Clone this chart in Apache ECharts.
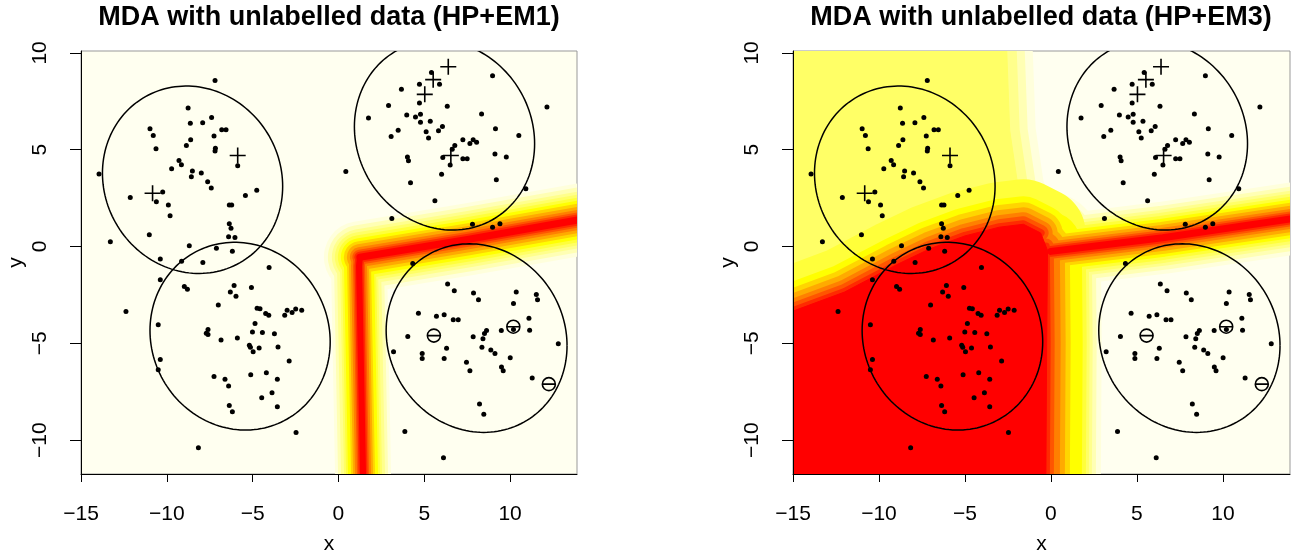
<!DOCTYPE html>
<html>
<head>
<meta charset="utf-8">
<script src="https://cdn.jsdelivr.net/npm/echarts@6/dist/echarts.min.js"></script>
<style>
  html, body { margin: 0; padding: 0; background: #fff; }
  #chart { width: 1291px; height: 560px; }
</style>
</head>
<body>
<div id="chart"></div>
<script>
// ---- values (data units) ----
var titles = ['MDA with unlabelled data (HP+EM1)', 'MDA with unlabelled data (HP+EM3)'];
var xTicks = [-15, -10, -5, 0, 5, 10];
var yTicks = [-10, -5, 0, 5, 10];

// unlabelled observations (same in both panels)
var dots = [
  // upper-left cluster
  [-7.19,8.58],[-8.76,7.16],[-8.63,6.37],[-7.91,6.39],[-7.39,6.67],[-6.80,6.03],[-6.55,6.03],
  [-10.98,6.08],[-10.79,5.74],[-7.25,5.71],[-8.61,5.52],[-8.86,5.22],[-10.63,5.05],[-7.17,5.08],
  [-7.19,4.93],[-5.87,4.17],[-9.29,4.44],[-9.15,4.22],[-9.72,4.02],[-8.51,3.90],[-7.99,3.80],
  [-8.57,3.61],[-13.95,3.75],[-7.62,3.35],[-7.41,3.02],[-4.76,2.91],[-5.42,2.64],[-10.24,2.82],
  [-12.13,2.53],[-10.61,2.31],[-9.91,2.14],[-6.36,2.14],[-6.22,2.14],[-9.81,1.59],[-6.36,1.18],
  [-6.26,0.95],[-6.40,0.51],[-6.03,0.46],[-11.02,0.61],[-13.29,0.25],[-8.69,0.04],[-7.11,-0.09],
  [-6.18,-0.25],[-10.38,-0.64],[-9.14,-0.76],[-7.90,-0.82],[-4.04,-1.08],[-10.38,-1.72],
  // lower-left cluster
  [-8.98,-2.06],[-8.80,-2.21],[-6.08,-2.01],[-6.30,-2.35],[-5.97,-2.57],[-5.07,-2.11],[-7.00,-3.02],
  [-12.38,-3.35],[-4.74,-3.19],[-4.57,-3.21],[-4.24,-3.46],[-4.06,-3.55],[-3.13,-3.55],[-2.99,-3.29],
  [-2.70,-3.41],[-2.49,-3.23],[-2.14,-3.29],[-10.50,-4.04],[-4.86,-3.97],[-7.60,-4.29],[-7.70,-4.48],
  [-7.60,-4.54],[-5.01,-4.41],[-4.43,-4.44],[-3.73,-4.51],[-6.84,-4.83],[-5.89,-4.73],[-5.19,-5.10],
  [-5.13,-5.20],[-4.97,-5.44],[-4.62,-5.24],[-3.52,-5.19],[-10.38,-5.83],[-10.50,-6.37],[-2.87,-5.91],
  [-7.25,-6.72],[-6.61,-6.86],[-6.40,-7.20],[-5.11,-6.62],[-4.20,-6.52],[-3.56,-6.86],[-3.87,-7.55],
  [-4.47,-7.81],[-3.56,-8.28],[-6.36,-8.21],[-6.18,-8.53],[-2.47,-9.61],[-8.16,-10.39],
  // upper-right cluster
  [5.42,8.99],[8.98,8.82],[4.72,8.38],[5.89,8.38],[3.67,8.13],[4.72,7.42],[12.15,7.21],[2.92,7.28],
  [6.34,7.25],[8.34,6.84],[1.75,6.64],[3.98,6.79],[4.49,6.69],[4.78,6.83],[4.78,6.42],[5.35,6.47],
  [6.06,6.20],[5.83,5.98],[5.11,5.93],[3.48,6.01],[3.07,5.68],[5.25,5.61],[9.15,6.08],[10.51,5.73],
  [7.25,5.52],[7.66,5.32],[7.85,5.52],[8.05,5.39],[6.78,5.22],[6.63,5.03],[6.08,4.60],[6.51,4.21],
  [7.25,4.53],[7.50,4.53],[4.02,4.63],[4.08,4.43],[9.12,4.78],[9.78,4.63],[0.43,3.87],[6.01,3.73],
  [4.20,3.29],[9.20,3.45],[10.92,2.99],[5.62,2.37],[3.11,1.45],[7.81,1.15],[8.98,1.00],[9.41,1.18],
  // lower-right cluster
  [4.33,-0.88],[6.36,-1.93],[6.75,-2.28],[7.87,-2.40],[8.16,-2.75],[10.36,-2.35],[10.20,-2.94],
  [11.53,-2.48],[11.60,-2.75],[4.66,-3.45],[5.71,-3.60],[6.16,-3.53],[6.69,-3.78],[6.98,-3.78],
  [11.10,-3.70],[11.14,-4.32],[4.04,-4.65],[7.85,-4.66],[8.63,-4.34],[8.51,-4.49],[8.42,-4.76],
  [9.49,-4.34],[10.20,-4.29],[12.81,-5.02],[3.21,-5.44],[4.88,-5.52],[4.88,-5.79],[6.30,-5.25],
  [6.16,-5.78],[8.36,-5.20],[8.88,-5.34],[9.12,-5.52],[10.01,-5.74],[7.46,-5.98],[7.66,-6.42],
  [9.50,-6.22],[9.60,-6.42],[11.29,-6.79],[8.22,-8.13],[8.47,-8.67],[3.87,-9.55],[6.12,-10.91]
];

// labelled observations
var plusPts  = [[-10.83,2.75],[-5.87,4.70],[5.03,7.86],[5.52,8.62],[6.40,9.29],[6.55,4.70]];
var minusPts = [[5.56,-4.60],[10.19,-4.14],[12.26,-7.11]];

// component ellipses: centre x, centre y, half-width, half-height, tilt phase
var ellipses = [
  [-8.50, 3.45, 5.25, 4.84, 0.07],
  [-5.73, -4.63, 5.25, 4.85, 0.06],
  [6.18, 5.75, 5.25, 4.90, 0.09],
  [8.05, -4.73, 5.27, 4.87, 0.08]
];

// heat-map shapes
var leftRidgeDown  = [[1.45,-12.5],[1.2,-1.0],[1.25,-0.55]];
var leftRidgeSlope = [[1.25,-0.55],[7.6,0.38],[14.5,1.46]];
var yellowEdge = [[-2.6,10.8],[-2.4,6],[-1.9,3],[-1.2,1.6],[0,0.6]];
var yellowArea = [[-15.5,10.8],[-2.6,10.8],[-2.4,6],[-1.9,3],[-1.2,1.6],[0,0.6],[0,-5],[-15.5,-5]];
var redTop   = [[-15.5,-3.5],[-12,-2.35],[-9,-0.95],[-7,-0.1],[-5,0.55],[-3,1.0],[-1.6,1.15],[-0.6,0.7]];
var redRight = [[-0.3,0.0],[-0.25,-5],[-0.3,-12.5]];
var redArea  = [[-15.5,-3.5],[-12,-2.35],[-9,-0.95],[-7,-0.1],[-5,0.55],[-3,1.0],[-1.6,1.15],
                [-0.6,0.7],[-0.2,-0.2],[-0.25,-5],[-0.3,-12.5],[-15.5,-12.5]];
var rightRidge = [[0,-0.25],[6.5,0.45],[14.5,1.5]];

// ---- styling ----
var FONT = 'Liberation Sans';
var cream = '#FFFFF0';
var heatCols = ['#FFFFDC','#FFFFB4','#FFFF8C','#FFFF66','#FFFF3A','#FFFF00',
                '#FFD500','#FFAA00','#FF8000','#FF5500','#FF2A00','#FF0000'];
var wideBand   = [36, 32, 28, 25, 22, 19, 16, 13, 10, 7.5, 5.5, 3.5];
var narrowBand = [28, 25, 22, 19, 17, 15, 12, 10, 8, 6, 4.5, 3];

var leftHeat = [
  {line: leftRidgeDown, half: narrowBand},
  {line: leftRidgeSlope, half: wideBand}
];
var rightHeat = [
  {line: yellowEdge, half: [26, 18, 10]},
  {area: yellowArea, fill: 3},
  {line: redTop, half: [0, 0, 0, 0, 45, 28, 22, 17, 12, 8, 4]},
  {line: redRight, half: [55, 50, 46, 43, 40, 36, 24, 19, 14, 8, 4]},
  {line: rightRidge, half: wideBand},
  {area: redArea, fill: 11}
];

function minus(v) { return String(v).replace('-', '\u2212'); }

function heatSeries(idx, feats) {
  return {
    type: 'custom', xAxisIndex: idx, yAxisIndex: idx, clip: true, silent: true, z: 1,
    data: [[0, 0]],
    renderItem: function (params, api) {
      var kids = [];
      function toPx(list) { return list.map(function (p) { return api.coord(p); }); }
      for (var lv = 0; lv < heatCols.length; lv++) {
        feats.forEach(function (f) {
          if (f.area && f.fill === lv) {
            kids.push({type: 'polygon', shape: {points: toPx(f.area)},
              style: {fill: heatCols[lv], stroke: heatCols[lv], lineWidth: 1}});
          }
          if (f.line && f.half[lv]) {
            kids.push({type: 'polyline', shape: {points: toPx(f.line)},
              style: {fill: 'none', stroke: heatCols[lv], lineWidth: 2 * f.half[lv],
                      lineJoin: 'round', lineCap: 'round'}});
          }
        });
      }
      return {type: 'group', children: kids};
    }
  };
}

function ellipseSeries(idx) {
  return {
    type: 'custom', xAxisIndex: idx, yAxisIndex: idx, clip: true, silent: true, z: 3,
    data: ellipses,
    renderItem: function (params, api) {
      var cx = api.value(0), cy = api.value(1), a = api.value(2), b = api.value(3), d = api.value(4);
      var pts = [];
      for (var k = 0; k <= 160; k++) {
        var t = k / 160 * 2 * Math.PI;
        pts.push(api.coord([cx + a * Math.cos(t), cy + b * Math.sin(t - d)]));
      }
      return {type: 'polyline', shape: {points: pts},
        style: {fill: 'none', stroke: '#000', lineWidth: 1.5}};
    }
  };
}

function markSeries(idx, data, symbol, size, filled) {
  return {
    type: 'scatter', xAxisIndex: idx, yAxisIndex: idx, silent: true, z: 4,
    data: data, symbol: symbol, symbolSize: size,
    itemStyle: filled ? {color: '#000', opacity: 1} :
      {color: 'rgba(0,0,0,0)', borderColor: '#000', borderWidth: 1.6, opacity: 1}
  };
}

var grids = [
  {left: 81, top: 51, width: 496, height: 431},
  {left: 793, top: 51, width: 497, height: 431}
];
grids.forEach(function (g) {
  g.show = true; g.backgroundColor = cream; g.borderColor = '#999'; g.borderWidth = 1;
});

function xAxisFor(idx) {
  return {
    type: 'value', gridIndex: idx, min: -15, max: 13.9, z: 5,
    name: 'x', nameLocation: 'middle', nameGap: 60,
    nameTextStyle: {fontFamily: FONT, fontSize: 21, color: '#000'},
    axisLine: {show: true, onZero: false, lineStyle: {color: '#000', width: 1}},
    axisTick: {show: true, length: 8, customValues: xTicks, lineStyle: {color: '#000'}},
    axisLabel: {fontFamily: FONT, fontSize: 21, color: '#000', margin: 30,
                customValues: xTicks, formatter: minus},
    splitLine: {show: false}
  };
}
function yAxisFor(idx) {
  return {
    type: 'value', gridIndex: idx, min: -11.75, max: 10.1, z: 5,
    name: 'y', nameLocation: 'middle', nameGap: 54,
    nameTextStyle: {fontFamily: FONT, fontSize: 21, color: '#000'},
    axisLine: {show: true, onZero: false, lineStyle: {color: '#000', width: 1}},
    axisTick: {show: true, length: 11, customValues: yTicks, lineStyle: {color: '#000'}},
    axisLabel: {fontFamily: FONT, fontSize: 21, color: '#000', margin: 30, rotate: 90,
                customValues: yTicks, formatter: minus},
    splitLine: {show: false}
  };
}

var plusSymbol  = 'path://M0,10H20M10,0V20';
var minusSymbol = 'path://M0,10A10,10,0,1,1,20,10A10,10,0,1,1,0,10ZM0,10H20';

var chart = echarts.init(document.getElementById('chart'));
chart.setOption({
  animation: false,
  backgroundColor: '#fff',
  title: [
    {text: titles[0], left: 329, top: 4, textAlign: 'center', padding: 0,
     textStyle: {fontFamily: FONT, fontWeight: 'bold', fontSize: 27, color: '#000'}},
    {text: titles[1], left: 1041, top: 4, textAlign: 'center', padding: 0,
     textStyle: {fontFamily: FONT, fontWeight: 'bold', fontSize: 27, color: '#000'}}
  ],
  grid: grids,
  xAxis: [xAxisFor(0), xAxisFor(1)],
  yAxis: [yAxisFor(0), yAxisFor(1)],
  series: [
    heatSeries(0, leftHeat), heatSeries(1, rightHeat),
    ellipseSeries(0), ellipseSeries(1),
    markSeries(0, dots, 'circle', 5, true), markSeries(1, dots, 'circle', 5, true),
    markSeries(0, plusPts, plusSymbol, 16, false), markSeries(1, plusPts, plusSymbol, 16, false),
    markSeries(0, minusPts, minusSymbol, 13, false), markSeries(1, minusPts, minusSymbol, 13, false)
  ]
});
</script>
</body>
</html>
